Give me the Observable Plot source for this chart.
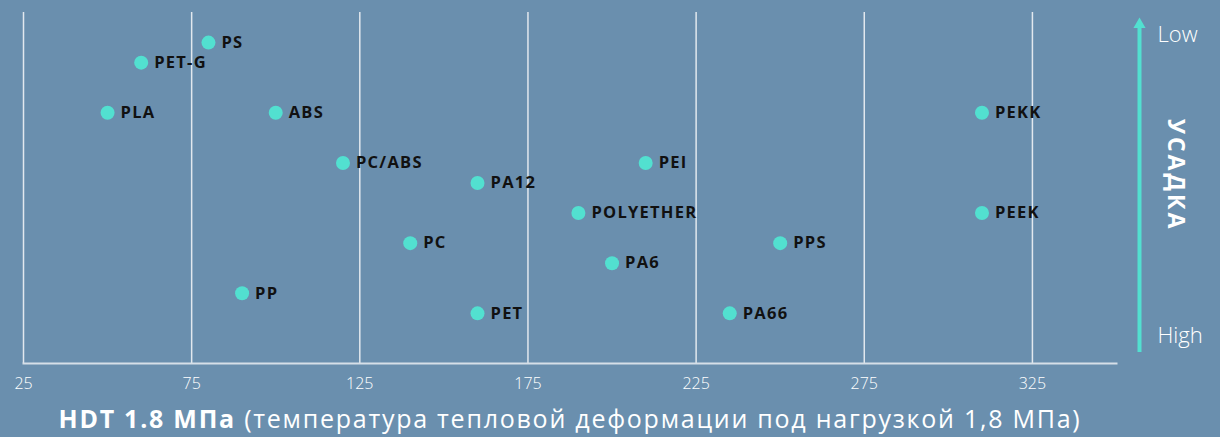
<!DOCTYPE html>
<html>
<head>
<meta charset="utf-8">
<script src="https://cdn.jsdelivr.net/npm/d3@7"></script>
<script src="https://cdn.jsdelivr.net/npm/@observablehq/plot@0.6"></script>
<style>
  html, body { margin: 0; padding: 0; background: #6a8fae; width: 1220px; height: 437px; overflow: hidden; }
  #wrap { position: relative; width: 1220px; height: 437px; }
  #title { position: absolute; left: 0; top: 403px; width: 1140px; text-align: center;
           font-family: "Open Sans", sans-serif; font-size: 25px; color: #ffffff; line-height: 30px; white-space: nowrap; letter-spacing: 1.75px; }
  #title b { font-weight: 700; }
  #title span { font-weight: 400; }
  g.pt-labels text { letter-spacing: 1.25px; }
  g.shrink-title text { letter-spacing: 3px; }
</style>
</head>
<body>
<div id="wrap">
  <div id="chart"></div>
  <div id="title"></div>
</div>
<script>
// ---- data ----
const materials = ["PS", "PET-G", "PLA", "ABS", "PEKK", "PC/ABS", "PEI", "PA12", "POLYETHER", "PEEK", "PC", "PPS", "PA6", "PP", "PET", "PA66"];
const hdt = [80, 60, 50, 100, 310, 120, 210, 160, 190, 310, 140, 250, 200, 90, 160, 235];
const shrinkRank = [0, 2, 7, 7, 7, 12, 12, 14, 17, 17, 20, 20, 22, 25, 27, 27];
const xTicks = [25, 75, 125, 175, 225, 275, 325];
const xDomain = [25, 350];
const yDomain = [-3, 32];
const shrinkLow = ["Low"];
const shrinkHigh = ["High"];
const shrinkTitle = ["УСАДКА"];
const axisTitleBold = "HDT 1.8 МПа";
const axisTitleRest = "(температура тепловой деформации под нагрузкой 1,8 МПа)";

const data = materials.map((m, i) => ({name: m, hdt: hdt[i], rank: shrinkRank[i]}));

const accent = "#52e0d0";
const gridColor = "#e2e8ee";

const chart = Plot.plot({
  width: 1220,
  height: 400,
  marginLeft: 23,
  marginRight: 104,
  marginTop: 12,
  marginBottom: 37,
  style: {background: "transparent", color: "#ffffff", fontFamily: "Open Sans, sans-serif", overflow: "visible"},
  x: {domain: xDomain},
  y: {domain: yDomain, reverse: true, axis: null},
  marks: [
    Plot.gridX(xTicks, {stroke: gridColor, strokeOpacity: 1, strokeWidth: 1.5}),
    Plot.frame({anchor: "bottom", stroke: "#d6dfe8", strokeWidth: 2}),
    Plot.axisX(xTicks, {tickSize: 0, tickPadding: 14, fontSize: 16, fontWeight: 300, fill: "#ffffff", label: null}),
    Plot.dot(data, {x: "hdt", y: "rank", r: 7, fill: accent, stroke: "none"}),
    Plot.text(data, {x: "hdt", y: "rank", text: "name", dx: 13, textAnchor: "start", fontSize: 16.5, fontWeight: 700, fill: "#111111", className: "pt-labels"}),
    // shrinkage direction arrow
    Plot.ruleX([xDomain[1]], {dx: 23, stroke: accent, strokeWidth: 4, insetTop: 15, insetBottom: 11}),
    Plot.dot([null], {frameAnchor: "top-right", symbol: "triangle", r: 4.5, fill: accent, stroke: "none", dx: 23, dy: 12}),
    Plot.text(shrinkLow, {text: d => d, frameAnchor: "top-right", dx: 41, dy: 22, textAnchor: "start", lineAnchor: "middle", fontSize: 22, fontWeight: 300, fill: "#ffffff"}),
    Plot.text(shrinkHigh, {text: d => d, frameAnchor: "bottom-right", dx: 41, dy: -28, textAnchor: "start", lineAnchor: "middle", fontSize: 22, fontWeight: 300, fill: "#ffffff"}),
    Plot.text(shrinkTitle, {text: d => d, frameAnchor: "right", dx: 59, dy: -13, rotate: 90, textAnchor: "middle", lineAnchor: "middle", fontSize: 23, fontWeight: 700, fill: "#ffffff", className: "shrink-title"})
  ]
});
document.getElementById("chart").appendChild(chart);

const t = document.getElementById("title");
const b = document.createElement("b"); b.textContent = axisTitleBold;
const s = document.createElement("span"); s.textContent = " " + axisTitleRest;
t.appendChild(b); t.appendChild(s);
</script>
</body>
</html>
